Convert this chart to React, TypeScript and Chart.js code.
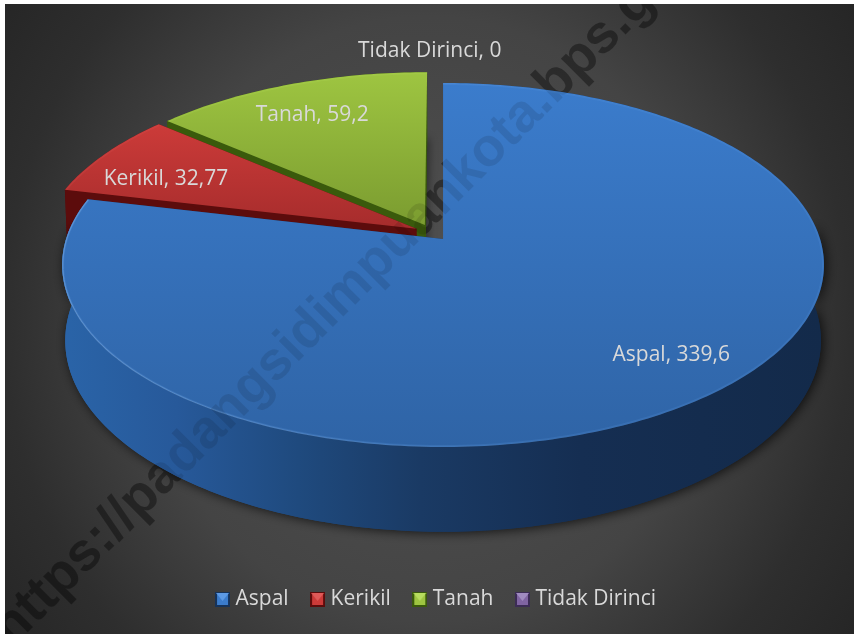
import React, { useEffect, useRef } from 'react';
import { Chart, registerables } from 'chart.js';

Chart.register(...registerables);

const categories = ['Aspal', 'Kerikil', 'Tanah', 'Tidak Dirinci'];
const values = [339.6, 32.77, 59.2, 0];
const labelTexts = ['Aspal, 339,6', 'Kerikil, 32,77', 'Tanah, 59,2', 'Tidak Dirinci, 0'];
const watermarkText = 'https://padangsidimpuankota.bps.go.id';

const topLight = ['#3b7ccc', '#cc3b39', '#9ec541', '#8064a2'];
const topDark = ['#2f64a6', '#a62c2c', '#7b9c30', '#5f4a7a'];
const cutColor = ['#16335a', '#5c0c0c', '#3a5a0c', '#3c2c55'];
const rimLight = ['#5c9ae6', '#e05a58', '#b7dc5e', '#a08bc0'];

// where each label sits inside its slice: fraction of sweep, fraction of radius, angle nudge
const labelFraction = [0.483, 0.37, 0.48, 0];
const labelRadius = [0.81, 0.765, 0.778, 1.165];
const labelNudge = [0, 0, 0, -0.0107];

const FONT = '"Open Sans", sans-serif';
const TEXT = '#d9d9d9';

// perspective view of the pie disc
const view = { x0: 443, y0: 239, a: 377, b: 178.3, k: 1 / 7, depthY: 75, depthW: 0.008 };
const explode = { cu: -0.029, cv: -0.037, e: 0.047 };

function project(u: number, v: number, z: number) {
  const w = 1 - view.k * v + view.depthW * z;
  return { x: view.x0 + (view.a * u) / w, y: view.y0 + (view.b * v + view.depthY * z) / w };
}

function bevelSquare(i: number) {
  const c = document.createElement('canvas');
  c.width = 15;
  c.height = 15;
  const g = c.getContext('2d')!;
  g.fillStyle = cutColor[i];
  g.fillRect(0, 0, 15, 15);
  g.fillStyle = topLight[i];
  g.fillRect(2, 1, 11, 12);
  g.fillStyle = rimLight[i];
  g.beginPath();
  g.moveTo(1, 1);
  g.lineTo(14, 1);
  g.lineTo(7.5, 9);
  g.closePath();
  g.fill();
  return c;
}

function panelPath(ctx: CanvasRenderingContext2D) {
  ctx.beginPath();
  ctx.rect(5, 4, 849, 630);
}

function drawWatermark(ctx: CanvasRenderingContext2D, alpha: number) {
  ctx.save();
  panelPath(ctx);
  ctx.clip();
  ctx.translate(12, 648);
  ctx.rotate(-Math.PI / 4);
  ctx.font = 'bold 54px "Liberation Sans", sans-serif';
  ctx.fillStyle = `rgba(0,0,0,${alpha})`;
  ctx.textAlign = 'left';
  ctx.textBaseline = 'alphabetic';
  ctx.fillText(watermarkText, 0, 0);
  ctx.restore();
}

function drawBackground(ctx: CanvasRenderingContext2D) {
  ctx.save();
  panelPath(ctx);
  ctx.clip();
  ctx.translate(427, 319);
  ctx.scale(470, 500);
  const g = ctx.createRadialGradient(0, 0, 0, 0, 0, 1.1);
  g.addColorStop(0, '#525252');
  g.addColorStop(0.55, '#444444');
  g.addColorStop(0.82, '#2e2e2e');
  g.addColorStop(1, '#262626');
  ctx.fillStyle = g;
  ctx.fillRect(-2, -2, 4, 4);
  ctx.restore();
  drawWatermark(ctx, 0.3);
}

function sliceGeometry(arc: any) {
  const s = arc.startAngle as number;
  const e = arc.endAngle as number;
  const mid = (s + e) / 2;
  return {
    s,
    e,
    cu: explode.cu + explode.e * Math.cos(mid),
    cv: explode.cv + explode.e * Math.sin(mid),
  };
}

function rimPoints(s: number, e: number, cu: number, cv: number, z: number) {
  const n = Math.max(2, Math.ceil(((e - s) * 180) / Math.PI));
  const pts: { x: number; y: number }[] = [];
  for (let i = 0; i <= n; i++) {
    const a = s + ((e - s) * i) / n;
    pts.push(project(cu + Math.cos(a), cv + Math.sin(a), z));
  }
  return pts;
}

function trace(ctx: CanvasRenderingContext2D, pts: { x: number; y: number }[]) {
  ctx.beginPath();
  pts.forEach((p, i) => (i ? ctx.lineTo(p.x, p.y) : ctx.moveTo(p.x, p.y)));
  ctx.closePath();
}

function drawSlice(ctx: CanvasRenderingContext2D, arc: any, i: number) {
  const { s, e, cu, cv } = sliceGeometry(arc);
  if (e - s < 1e-6) return;
  const top = rimPoints(s, e, cu, cv, 0);
  const bottom = rimPoints(s, e, cu, cv, 1);
  const apexTop = project(cu, cv, 0);
  const apexBottom = project(cu, cv, 1);

  let sideFill: CanvasGradient | string = cutColor[i];
  if (i === 0) {
    const g = ctx.createLinearGradient(62, 0, 825, 0);
    g.addColorStop(0, '#2a64a8');
    g.addColorStop(0.15, '#27599a');
    g.addColorStop(0.31, '#1f4a7e');
    g.addColorStop(0.47, '#1a3a64');
    g.addColorStop(0.68, '#152e52');
    g.addColorStop(1, '#132a4a');
    sideFill = g;
  }

  ctx.save();
  ctx.fillStyle = sideFill;
  ctx.shadowOffsetX = 2;
  ctx.shadowOffsetY = 1;
  if (i === 0) {
    // the cast shadow only falls from the front of the large slice
    const frontA = -0.09;
    const frontB = Math.PI + 0.09;
    const ft = rimPoints(frontA, frontB, cu, cv, 0);
    const fb = rimPoints(frontA, frontB, cu, cv, 1);
    ctx.shadowColor = 'rgba(0,0,0,0.75)';
    ctx.shadowBlur = 12;
    trace(ctx, [...ft, ...fb.slice().reverse()]);
  } else {
    // the small slices cast theirs from their lower face
    ctx.shadowColor = 'rgba(0,0,0,0.4)';
    ctx.shadowBlur = 8;
    trace(ctx, [apexBottom, ...bottom]);
  }
  ctx.fill();
  ctx.shadowColor = 'transparent';
  trace(ctx, [...top, ...bottom.slice().reverse()]);
  ctx.fill();
  ctx.restore();

  ctx.fillStyle = cutColor[i];
  [[top[0], bottom[0]], [top[top.length - 1], bottom[bottom.length - 1]]].forEach(([a, b]) => {
    trace(ctx, [apexTop, a, b, apexBottom]);
    ctx.fill();
  });

  const fill = ctx.createLinearGradient(0, Math.min(...top.map((p) => p.y)), 0, Math.max(apexTop.y, ...top.map((p) => p.y)));
  fill.addColorStop(0, topLight[i]);
  fill.addColorStop(1, topDark[i]);
  ctx.fillStyle = fill;
  trace(ctx, [apexTop, ...top]);
  ctx.fill();

  ctx.save();
  trace(ctx, [apexTop, ...top]);
  ctx.clip();
  ctx.strokeStyle = rimLight[i];
  ctx.globalAlpha = 0.18;
  ctx.lineWidth = 4;
  ctx.beginPath();
  top.forEach((p, j) => (j ? ctx.lineTo(p.x, p.y) : ctx.moveTo(p.x, p.y)));
  ctx.stroke();
  if (i === 0) {
    // thin highlight along the lit front-left edge
    const hl = ctx.createLinearGradient(62, 0, 560, 0);
    hl.addColorStop(0, 'rgba(150,195,245,0.35)');
    hl.addColorStop(1, 'rgba(150,195,245,0)');
    ctx.globalAlpha = 1;
    ctx.strokeStyle = hl;
    ctx.lineWidth = 2.4;
    ctx.stroke();
  }
  ctx.restore();
}

function drawLabels(ctx: CanvasRenderingContext2D, arcs: any[]) {
  ctx.save();
  ctx.font = `21px ${FONT}`;
  ctx.fillStyle = TEXT;
  ctx.textAlign = 'center';
  ctx.textBaseline = 'middle';
  arcs.forEach((arc, i) => {
    const { s, e, cu, cv } = sliceGeometry(arc);
    const a = s + (e - s) * labelFraction[i] + labelNudge[i];
    const p = project(cu + labelRadius[i] * Math.cos(a), cv + labelRadius[i] * Math.sin(a), 0);
    ctx.fillText(labelTexts[i], p.x, p.y + 1);
  });
  ctx.restore();
}

const pie3d = {
  id: 'pie3d',
  beforeDraw(chart: any) {
    drawBackground(chart.ctx);
  },
  beforeDatasetsDraw(chart: any) {
    const arcs = chart.getDatasetMeta(0).data;
    const order = arcs.map((_: any, i: number) => i).reverse();
    order.forEach((i: number) => drawSlice(chart.ctx, arcs[i], i));
    drawLabels(chart.ctx, arcs);
    return false;
  },
  afterDraw(chart: any) {
    drawWatermark(chart.ctx, 0.1);
  },
};

export default function App() {
  const ref = useRef<HTMLCanvasElement>(null);
  useEffect(() => {
    document.body.style.margin = '0';
    const chart = new Chart(ref.current!, {
      type: 'pie',
      data: {
        labels: categories,
        datasets: [{ data: values, backgroundColor: topLight, borderWidth: 0 }],
      },
      plugins: [pie3d],
      options: {
        animation: false,
        responsive: false,
        layout: { padding: { bottom: 14, left: 22 } },
        plugins: {
          tooltip: { enabled: false },
          title: { display: false },
          legend: {
            position: 'bottom',
            labels: {
              usePointStyle: true,
              pointStyleWidth: 5,
              padding: 26.5,
              color: TEXT,
              font: { family: '"Open Sans", sans-serif', size: 21 },
              generateLabels: () =>
                categories.map((text, i) => ({
                  text,
                  index: i,
                  hidden: false,
                  fillStyle: topLight[i],
                  strokeStyle: topLight[i],
                  lineWidth: 0,
                  fontColor: TEXT,
                  pointStyle: bevelSquare(i),
                })),
            },
          },
        },
      },
    } as any);
    return () => chart.destroy();
  }, []);
  return <canvas ref={ref} width={854} height={634} style={{ display: 'block' }} />;
}
